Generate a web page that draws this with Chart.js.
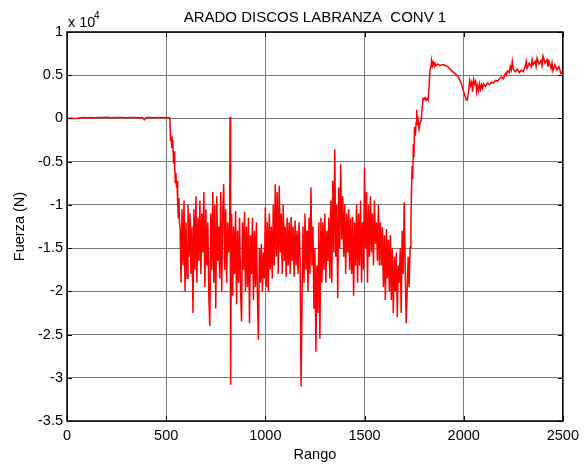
<!DOCTYPE html>
<html>
<head>
<meta charset="utf-8">
<title>Arado discos labranza</title>
<script src="https://cdn.jsdelivr.net/npm/chart.js"></script>
<style>
  html, body { margin: 0; padding: 0; background: #ffffff; }
</style>
</head>
<body>
<canvas id="myChart" width="585" height="466"></canvas>
<script>
const titulo = 'ARADO DISCOS LABRANZA  CONV 1';

// ticks de los ejes
const ticksRango = [0, 500, 1000, 1500, 2000, 2500];
const ticksFuerza = [-35000, -30000, -25000, -20000, -15000, -10000, -5000, 0, 5000, 10000];

// tramo en reposo, antes de que entre el arado
const rangoReposo = [0, 20, 40, 60, 80, 100, 120, 140, 160, 180, 200, 220, 240, 260, 280, 300, 320, 340, 360, 380, 390, 400, 420, 440, 460, 480, 500, 515];
const fuerzaReposo = [0, 30, -20, 60, 110, 90, 120, 80, 110, 100, 130, 90, 110, 100, 120, 80, 110, 100, 90, 120, -150, 100, 110, 80, 100, 120, 90, 110];

// entrada del arado en el suelo
const rangoEntrada = [519, 522, 525, 528, 531, 534, 537, 540, 543, 546, 549, 552, 555, 558, 561, 564, 567];
const fuerzaEntrada = [-200, -2600, -2100, -3400, -2500, -3000, -5200, -3800, -5600, -7400, -6300, -8000, -7200, -9800, -11500, -9200, -12000];

// labranza
const rangoLabor = [
  570, 575, 580, 585, 590, 595, 600, 605, 610, 615,
  620, 625, 630, 635, 640, 645, 650, 655, 660, 665,
  670, 675, 680, 685, 690, 695, 700, 705, 710, 715,
  720, 725, 730, 735, 740, 745, 750, 755, 760, 765,
  770, 775, 780, 785, 790, 795, 800, 805, 810, 815,
  820, 822, 824, 826, 828,
  830, 835, 840, 845, 850, 855, 860, 865, 870, 875,
  880, 885, 890, 895, 900, 905, 910, 915, 920, 925,
  930, 935, 940, 945, 950, 955, 960, 965, 970, 975,
  980, 985, 990, 995, 1000, 1005, 1010, 1015, 1020, 1025,
  1030, 1035, 1040, 1045, 1050, 1055, 1060, 1065, 1070, 1075,
  1080, 1085, 1090, 1095, 1100, 1105, 1110, 1115, 1120, 1125,
  1130, 1135, 1140, 1145, 1150, 1155, 1160, 1165, 1170, 1175,
  1180, 1185, 1190, 1195, 1200, 1205, 1210, 1215, 1220, 1225,
  1230, 1235, 1240, 1245, 1250, 1255, 1260, 1265, 1270, 1275,
  1280, 1285, 1290, 1295, 1300, 1305, 1310, 1315, 1320, 1325,
  1330, 1335, 1340, 1345, 1350, 1355, 1360, 1365, 1370, 1375,
  1380, 1385, 1390, 1395, 1400, 1405, 1410, 1415, 1420, 1425,
  1430, 1435, 1440, 1445, 1450, 1455, 1460, 1465, 1470, 1475,
  1480, 1485, 1490, 1495, 1500, 1505, 1510, 1515, 1520, 1525,
  1530, 1535, 1540, 1545, 1550, 1555, 1560, 1565, 1570, 1575,
  1580, 1585, 1590, 1595, 1600, 1605, 1610, 1615, 1620, 1625,
  1630, 1635, 1640, 1645, 1650, 1655, 1660, 1665, 1670, 1675,
  1680, 1685, 1690, 1695, 1700, 1705, 1710, 1715,
  1720, 1725, 1730, 1734
];
const fuerzaLabor = [
  -12500, -19000, -10500, -17000, -9500, -20000, -12000, -18500, -10000, -16000,
  -11000, -18000, -12500, -22500, -10500, -17500, -9000, -19000, -11500, -16500,
  -9500, -18000, -11000, -15500, -8500, -19500, -10500, -17000, -12000, -20500,
  -24000, -11000, -17500, -8500, -19000, -10000, -22000, -9000, -16500, -12500,
  -18500, -8500, -20000, -11000, -7600, -17500, -10500, -19000, -12000, -15500,
  -12000, 200, -15000, -30800, -16000,
  -11000, -20500, -12500, -18000, -10700, -21500, -13000, -19000, -11500, -20000,
  -23500, -12000, -17500, -10800, -20000, -12500, -19500, -11500, -23700, -13500,
  -18000, -11500, -21000, -13000, -19500, -12000, -20500, -25600, -15000, -19000,
  -14500, -20000, -15500, -18500, -10300, -19500, -12000, -20000, -11000, -17500,
  -12500, -18500, -10000, -17000, -7600, -16000, -8500, -18000, -7800, -15500,
  -11000, -18000, -10000, -16500, -12500, -18300, -11500, -17000, -12000, -18000,
  -11400, -16500, -12500, -18300, -11800, -17000, -13000, -18000, -12000, -16000,
  -31000, -21000, -12500, -19000, -11000, -17500, -13000, -20000, -11500, -18000,
  -8000, -17000, -12500, -22000, -15000, -27000, -17000, -22500, -12000, -25500,
  -11500, -19000, -12000, -17500, -11000, -19000, -13000, -16500, -11500, -18500,
  -9500, -19000, -7200, -15500, -3600, -16000, -10000, -20800, -8000, -15000,
  -5300, -14000, -9000, -16000, -10000, -18000, -11000, -15500, -10500, -17500,
  -11500, -18000, -11400, -20500, -12000, -17000, -10000, -19000, -11000, -17000,
  -9500, -19000, -12000, -17500, -5700, -15000, -8500, -19000, -10000, -16000,
  -9000, -15500, -11000, -17000, -9500, -14500, -12000, -16500, -10000, -17000,
  -12000, -17000, -12600, -19500, -13500, -21000, -12800, -18500, -14000, -20000,
  -13500, -21000, -15000, -22500, -16000, -20000, -15500, -23000, -17000, -19000,
  -15000, -22500, -13000, -18000, -9700, -17000, -23700, -20000,
  -16000, -19500, -14900, -12000
];

// salida del suelo y tramo final
const rangoSalida = [
  1737, 1740, 1743, 1746, 1749, 1752, 1756, 1760, 1763, 1766,
  1770, 1775, 1780, 1785, 1790, 1795, 1800, 1805, 1810, 1815,
  1820, 1825, 1830, 1835, 1838, 1842, 1846, 1850, 1855, 1860,
  1870, 1880, 1890, 1900, 1910, 1920, 1930, 1940, 1950, 1960,
  1970, 1975, 1985, 1995, 2005, 2012, 2018, 2024, 2030, 2035,
  2040, 2045, 2050, 2055, 2060, 2065, 2070, 2075, 2080, 2085,
  2090, 2095, 2100, 2110, 2120, 2130, 2140, 2150, 2160, 2170,
  2180, 2190, 2200, 2210, 2215, 2220, 2230, 2235, 2240, 2245,
  2250, 2260, 2270, 2280, 2290, 2300, 2310, 2315, 2320, 2330,
  2340, 2345, 2350, 2360, 2365, 2370, 2380, 2390, 2395, 2400,
  2410, 2420, 2425, 2430, 2440, 2445, 2450, 2460, 2470, 2480,
  2490, 2500
];
const fuerzaSalida = [
  -8000, -5500, -7000, -3000, -4500, -1000, -2000, -500, 1000, -800,
  -200, -1200, -500, -300, 1000, 2300, 2200, 2400, 2100, 2300,
  2100, 3500, 5600, 6000, 6700, 6100, 6500, 6200, 6400, 6100,
  6300, 6100, 6200, 6200, 6100, 6000, 5700, 5500, 5300, 5100,
  4900, 4700, 4200, 3500, 2700, 2200, 2100, 3000, 4400, 3800,
  4200, 3100, 4500, 4000, 4300, 3100, 3800, 3200, 4000, 3400,
  3900, 3500, 4000, 3700, 4100, 3900, 4200, 4100, 4400, 4300,
  4600, 4800, 4600, 5200, 5000, 5500, 5300, 6000, 5600, 6600,
  5700, 5400, 5700, 5300, 5600, 5400, 6000, 6600, 5800, 6400,
  6000, 6800, 6200, 6600, 6000, 7000, 6300, 6700, 6100, 7200,
  6400, 6800, 6000, 6600, 5800, 6400, 5500, 6200, 5600, 6000,
  5200, 5500
];

const rango = rangoReposo.concat(rangoEntrada, rangoLabor, rangoSalida);
const fuerza = fuerzaReposo.concat(fuerzaEntrada, fuerzaLabor, fuerzaSalida);

const fuente = '"Liberation Sans", Arial, sans-serif';

// marco negro, marcas interiores, titulo y exponente del eje y
const marcoEjes = {
  id: 'marcoEjes',
  afterDraw(chart) {
    const { ctx, chartArea: a, scales } = chart;
    ctx.save();
    ctx.strokeStyle = '#000000';
    ctx.lineWidth = 1;
    ctx.beginPath();
    scales.x.ticks.forEach(t => {
      const px = Math.round(scales.x.getPixelForValue(t.value)) + 0.5;
      ctx.moveTo(px, a.bottom);
      ctx.lineTo(px, a.bottom - 5);
      ctx.moveTo(px, a.top);
      ctx.lineTo(px, a.top + 5);
    });
    scales.y.ticks.forEach(t => {
      const py = Math.round(scales.y.getPixelForValue(t.value)) + 0.5;
      ctx.moveTo(a.left, py);
      ctx.lineTo(a.left + 5, py);
      ctx.moveTo(a.right, py);
      ctx.lineTo(a.right - 5, py);
    });
    ctx.stroke();
    ctx.lineWidth = 1.5;
    ctx.strokeRect(a.left, a.top, a.right - a.left, a.bottom - a.top);

    ctx.fillStyle = '#000000';
    ctx.textBaseline = 'alphabetic';
    ctx.textAlign = 'center';
    ctx.font = '15px ' + fuente;
    ctx.fillText(titulo, (a.left + a.right) / 2, a.top - 10);
    ctx.textAlign = 'left';
    ctx.font = '14.5px ' + fuente;
    ctx.fillText('x 10', a.left + 1, a.top - 5.5);
    ctx.font = '10px ' + fuente;
    ctx.fillText('4', a.left + 27, a.top - 13.5);
    ctx.restore();
  }
};

const ctx = document.getElementById('myChart');

new Chart(ctx, {
  type: 'line',
  data: {
    datasets: [{
      data: rango.map((r, i) => ({ x: r, y: fuerza[i] })),
      borderColor: '#ff0000',
      borderWidth: 1.5,
      pointRadius: 0,
      tension: 0,
      fill: false
    }]
  },
  options: {
    responsive: false,
    animation: false,
    layout: { padding: { top: 32, right: 18, bottom: 0, left: 0 } },
    plugins: {
      legend: { display: false },
      tooltip: { enabled: false }
    },
    scales: {
      x: {
        type: 'linear',
        min: 0,
        max: 2500,
        afterBuildTicks: s => { s.ticks = ticksRango.map(v => ({ value: v })); },
        afterFit: s => { s.height = 45; },
        grid: { color: '#7a7a7a', drawTicks: false },
        border: { display: false },
        ticks: {
          padding: 6,
          color: '#000000',
          font: { family: fuente, size: 14.5 },
          maxRotation: 0,
          callback: v => String(v)
        },
        title: {
          display: true,
          text: 'Rango',
          color: '#000000',
          font: { family: fuente, size: 14.5 },
          padding: { top: 0, bottom: 2 }
        }
      },
      y: {
        min: -35000,
        max: 10000,
        afterBuildTicks: s => { s.ticks = ticksFuerza.map(v => ({ value: v })); },
        afterFit: s => { s.width = 67; },
        grid: { color: '#7a7a7a', drawTicks: false },
        border: { display: false },
        ticks: {
          padding: 4,
          color: '#000000',
          font: { family: fuente, size: 14.5 },
          callback: v => String(v / 10000)
        },
        title: {
          display: true,
          text: 'Fuerza (N)',
          color: '#000000',
          font: { family: fuente, size: 14.5 },
          padding: { top: 11, bottom: 0 }
        }
      }
    }
  },
  plugins: [marcoEjes]
});
</script>
</body>
</html>
